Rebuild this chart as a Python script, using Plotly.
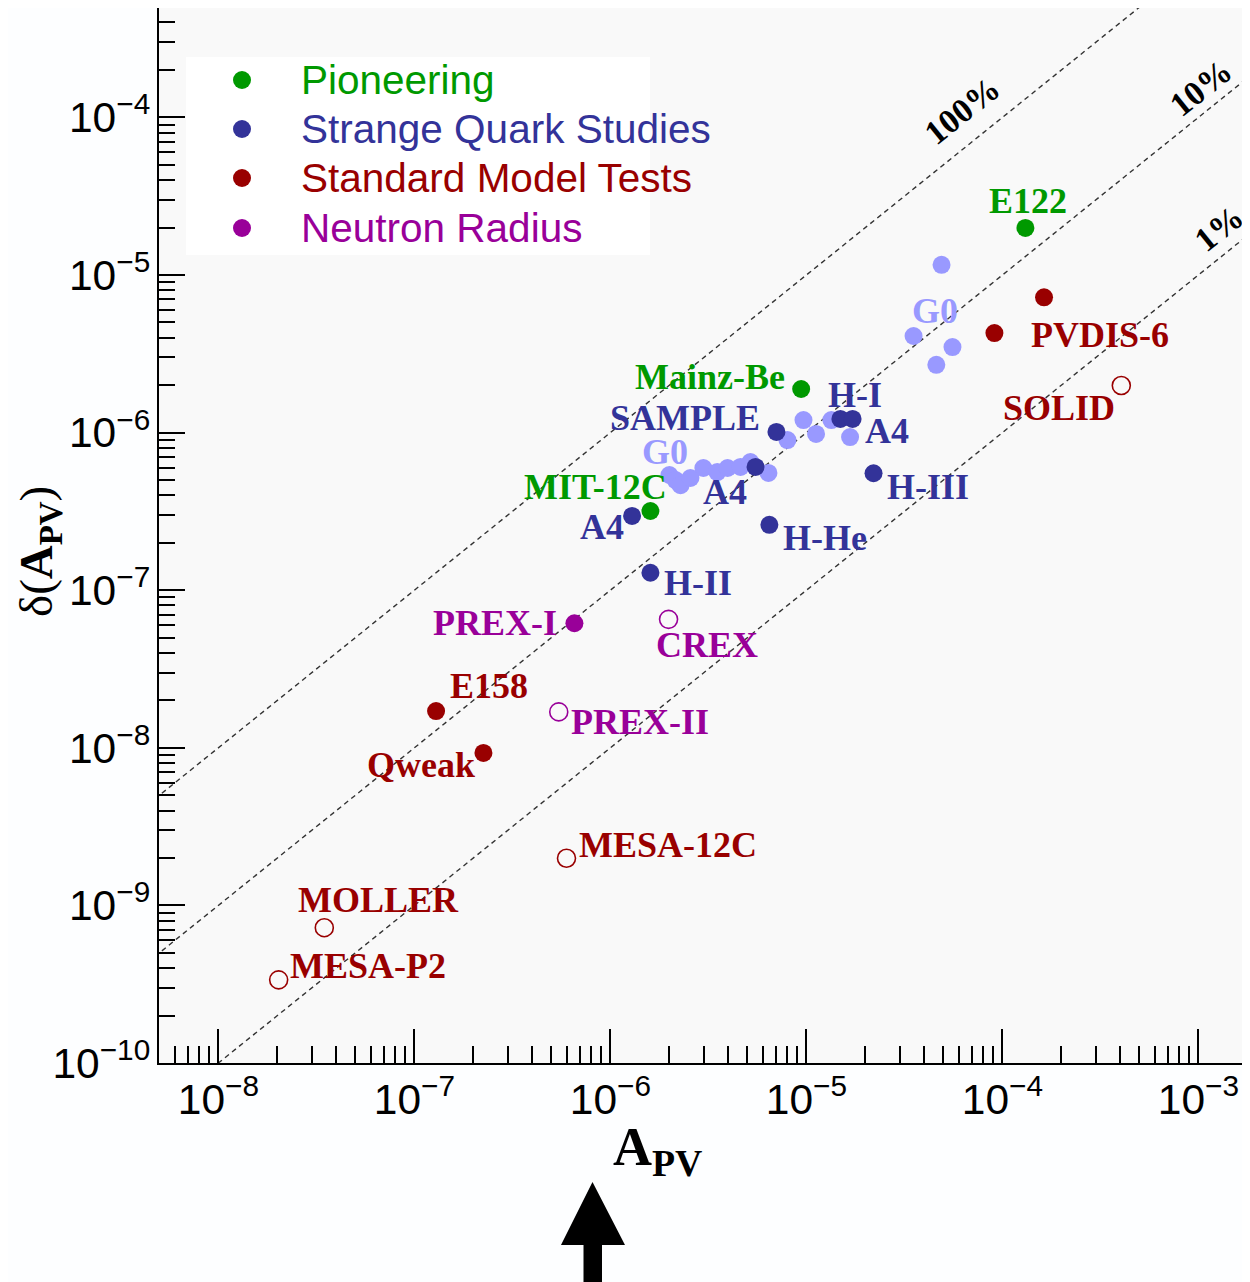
import plotly.graph_objects as go
import numpy as np

# ---------------- data ----------------
pioneer_A = [1.31e-4, 9.4e-6, 1.6e-6]            # E122, Mainz-Be, MIT-12C
pioneer_dA = [1.99e-5, 1.89e-6, 3.18e-7]

strange_A = [7.03e-6, 1.49e-5, 1.72e-5, 5.5e-6, 2.2e-5, 6.47e-6, 1.29e-6, 1.6e-6]
strange_dA = [1.01e-6, 1.22e-6, 1.22e-6, 6.05e-7, 5.52e-7, 2.6e-7, 2.96e-7, 1.29e-7]

g0_A = [2.0e-6, 2.15e-6, 2.28e-6, 2.56e-6, 2.98e-6, 3.51e-6, 3.96e-6, 4.61e-6, 5.18e-6, 6.40e-6,
        8.0e-6, 9.66e-6, 1.12e-5, 1.34e-5, 1.67e-5,
        4.89e-5, 3.52e-5, 5.56e-5, 4.6e-5]
g0_dA = [5.38e-7, 5.0e-7, 4.64e-7, 5.15e-7, 5.96e-7, 5.62e-7, 5.96e-7, 6.05e-7, 6.50e-7, 5.55e-7,
         8.97e-7, 1.20e-6, 9.8e-7, 1.20e-6, 9.37e-7,
         1.16e-5, 4.1e-6, 3.49e-6, 2.69e-6]

sm_A = [1.29e-7, 2.25e-7, 9.1e-5, 1.63e-4]        # E158, Qweak, PVDIS-6 (x2)
sm_dA = [1.71e-8, 9.27e-9, 4.28e-6, 7.21e-6]
sm_future_A = [4.04e-4, 5.97e-7, 3.47e-8, 2.03e-8]   # SOLID, MESA-12C, MOLLER, MESA-P2
sm_future_dA = [1.99e-6, 1.99e-9, 7.22e-10, 3.37e-10]

nr_A = [6.55e-7]                                   # PREX-I
nr_dA = [6.17e-8]
nr_future_A = [1.98e-6, 5.45e-7]                   # CREX, PREX-II
nr_future_dA = [6.53e-8, 1.69e-8]

precision_levels = [1.0, 0.1, 0.01]
precision_labels = ["100%", "10%", "1%"]

categories = ["Pioneering", "Strange Quark Studies", "Standard Model Tests", "Neutron Radius"]

# label texts with group and (log10 A, log10 dA) anchor
label_text = ["E122", "Mainz-Be", "MIT-12C",
              "SAMPLE", "G0", "H-I", "A4", "A4", "A4", "H-III", "H-He", "H-II", "G0",
              "PVDIS-6", "SOLID", "E158", "Qweak", "MESA-12C", "MOLLER", "MESA-P2",
              "PREX-I", "CREX", "PREX-II"]
label_group = ["pio", "pio", "pio",
               "sq", "g0", "sq", "sq", "sq", "sq", "sq", "sq", "sq", "g0",
               "sm", "sm", "sm", "sm", "sm", "sm", "sm",
               "nr", "nr", "nr"]
label_lx = [-3.872, -5.490, -6.077,
            -5.617, -5.719, -4.750, -4.587, -5.413, -6.041, -4.378, -4.903, -5.551, -4.342,
            -3.500, -3.714, -6.622, -6.964, -5.704, -7.184, -7.235,
            -6.587, -5.505, -5.847]
label_ly = [-4.530, -5.647, -6.345,
            -5.907, -6.123, -5.761, -5.990, -6.377, -6.599, -6.345, -6.669, -6.954, -5.228,
            -5.381, -5.844, -7.608, -8.109, -8.617, -8.966, -9.385,
            -7.208, -7.348, -7.836]
pct_lx = [-4.204, -2.985, -2.898]
pct_ly = [-3.959, -3.813, -4.702]

# ---------------- style ----------------
GREEN = "#009900"
BLUE = "#333399"
LIGHT = "#9999ff"
RED = "#990000"
PURPLE = "#990099"
group_color = {"pio": GREEN, "sq": BLUE, "g0": LIGHT, "sm": RED, "nr": PURPLE}
cat_colors = [GREEN, BLUE, RED, PURPLE]

XR = [-8.303, -2.737]
YR = [-10.0, -3.306]
MS = 18

# plot area on screen (body margin of 8px included)
PL, PR, PT, PB = 159, 1250, 8, 1063


def px(xs):
    return (xs - PL) / (PR - PL)


def py(ys):
    return (PB - ys) / (PB - PT)


fig = go.Figure()

# precision reference lines
xline = np.array([10 ** (XR[0] - 0.2), 10 ** (XR[1] + 0.2)])
for lev in precision_levels:
    fig.add_trace(go.Scatter(x=xline, y=lev * xline, mode="lines",
                             line=dict(color="#333333", width=1.4, dash="5px,4px"),
                             showlegend=False, hoverinfo="skip"))

fig.add_trace(go.Scatter(x=g0_A, y=g0_dA, mode="markers", showlegend=False,
                         marker=dict(size=MS, color=LIGHT, line=dict(width=0))))
fig.add_trace(go.Scatter(x=pioneer_A, y=pioneer_dA, mode="markers", name=categories[0],
                         showlegend=False, marker=dict(size=MS, color=GREEN, line=dict(width=0))))
fig.add_trace(go.Scatter(x=strange_A, y=strange_dA, mode="markers", name=categories[1],
                         showlegend=False, marker=dict(size=MS, color=BLUE, line=dict(width=0))))
fig.add_trace(go.Scatter(x=sm_A, y=sm_dA, mode="markers", name=categories[2],
                         showlegend=False, marker=dict(size=MS, color=RED, line=dict(width=0))))
fig.add_trace(go.Scatter(x=nr_A, y=nr_dA, mode="markers", name=categories[3],
                         showlegend=False, marker=dict(size=MS, color=PURPLE, line=dict(width=0))))
fig.add_trace(go.Scatter(x=sm_future_A, y=sm_future_dA, mode="markers", showlegend=False,
                         marker=dict(size=MS, color=RED, symbol="circle-open",
                                     line=dict(color=RED, width=1.6))))
fig.add_trace(go.Scatter(x=nr_future_A, y=nr_future_dA, mode="markers", showlegend=False,
                         marker=dict(size=MS, color=PURPLE, symbol="circle-open",
                                     line=dict(color=PURPLE, width=1.6))))

annotations = []
for t, g, lx, ly in zip(label_text, label_group, label_lx, label_ly):
    annotations.append(dict(x=lx, y=ly, xref="x", yref="y", text="<b>%s</b>" % t,
                            showarrow=False, xanchor="center", yanchor="middle",
                            font=dict(family="Liberation Serif", size=36, color=group_color[g])))
for t, lx, ly in zip(precision_labels, pct_lx, pct_ly):
    annotations.append(dict(x=lx, y=ly, xref="x", yref="y", text="<b>%s</b>" % t,
                            showarrow=False, textangle=-38.8, xanchor="center", yanchor="middle",
                            font=dict(family="Liberation Serif", size=34, color="black")))

# axis titles
annotations.append(dict(x=px(657), y=py(1150), xref="paper", yref="paper",
                        xanchor="center", yanchor="middle",
                        text="<b>A<sub>PV</sub></b>", showarrow=False,
                        font=dict(family="Liberation Serif", size=54, color="black")))
annotations.append(dict(x=px(39), y=py(552), xref="paper", yref="paper", textangle=-90,
                        xanchor="center", yanchor="middle",
                        text="δ(<b>A<sub>PV</sub></b>)", showarrow=False,
                        font=dict(family="Liberation Serif", size=47, color="black")))

# legend (drawn as text + dots on a white box)
shapes = [dict(type="rect", xref="paper", yref="paper",
               x0=px(186), x1=px(650), y0=py(255), y1=py(57),
               fillcolor="white", line=dict(width=0), layer="below")]
leg_y = [80, 129, 178, 228]
for name, col, yy in zip(categories, cat_colors, leg_y):
    shapes.append(dict(type="circle", xref="paper", yref="paper",
                       xsizemode="pixel", ysizemode="pixel",
                       xanchor=px(242), yanchor=py(yy), x0=-9, x1=9, y0=-9, y1=9,
                       fillcolor=col, line=dict(width=0)))
    annotations.append(dict(x=px(299), y=py(yy), xref="paper", yref="paper",
                            xanchor="left", yanchor="middle", text=name, showarrow=False,
                            font=dict(family="Liberation Sans", size=40.5, color=col)))

# arrow below the axis
ax_tip, ax_hb, ax_bot = 1182, 1245, 1300
shapes.append(dict(type="path", xref="paper", yref="paper",
                   path="M %f %f L %f %f L %f %f L %f %f L %f %f L %f %f L %f %f Z" % (
                       px(592.5), py(ax_tip), px(625), py(ax_hb), px(602), py(ax_hb),
                       px(602), py(ax_bot), px(583.5), py(ax_bot), px(583.5), py(ax_hb),
                       px(561), py(ax_hb)),
                   fillcolor="black", line=dict(width=0)))

fig.update_layout(
    width=1250, height=1282,
    margin=dict(l=PL - 8, r=8, t=PT - 8, b=1282 - (PB - 8)),
    paper_bgcolor="#fdfeff", plot_bgcolor="#f9f9f9",
    showlegend=False,
    annotations=annotations,
    shapes=shapes,
)

fig.update_xaxes(type="log", range=XR, showgrid=False, zeroline=False, automargin=False,
                 showline=True, linecolor="black", linewidth=2, mirror=True,
                 ticks="inside", ticklen=34, tickwidth=1.5, tickcolor="black",
                 dtick=1, exponentformat="power",
                 tickfont=dict(family="Liberation Sans", size=34, color="black"),
                 minor=dict(ticks="inside", ticklen=17, tickwidth=1.5, tickcolor="black",
                            dtick="D1", showgrid=False))
fig.update_yaxes(type="log", range=YR, showgrid=False, zeroline=False, automargin=False,
                 showline=True, linecolor="black", linewidth=2,
                 ticks="inside", ticklen=26, tickwidth=1.5, tickcolor="black",
                 dtick=1, exponentformat="power",
                 tickfont=dict(family="Liberation Sans", size=34, color="black"),
                 minor=dict(ticks="inside", ticklen=16, tickwidth=1.5, tickcolor="black",
                            dtick="D1", showgrid=False))

fig.write_html("out.html", config={"displayModeBar": False})
